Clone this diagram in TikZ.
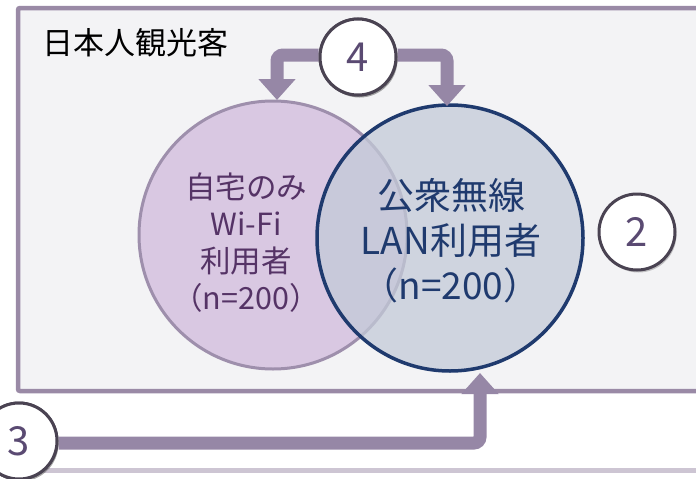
\documentclass[tikz,border=0pt]{standalone}
\usepackage{fontspec}
\newfontfamily\jp{Noto Sans CJK JP}
\usetikzlibrary{arrows.meta,shadows}
\definecolor{frame}{HTML}{9A8AA6}
\definecolor{arrowc}{HTML}{9687A6}
\definecolor{bgc}{HTML}{F3F3F5}
\definecolor{lilac}{HTML}{D9C8E2}
\definecolor{lilacedge}{HTML}{9E8FAC}
\definecolor{navy}{HTML}{1F3A6E}
\definecolor{navyfill}{HTML}{C3CAD8}
\definecolor{purpletext}{HTML}{553366}
\definecolor{badgeedge}{HTML}{4A4352}
\definecolor{badgetext}{HTML}{5A4A72}
\definecolor{lowline}{HTML}{CDC5D3}
\tikzset{
  badge/.style={circle, draw=badgeedge, line width=3pt, fill=white,
    inner sep=0pt, minimum size=76pt, text=badgetext,
    font=\jp\fontsize{40}{40}\selectfont,
    drop shadow={shadow xshift=1.5pt, shadow yshift=-2.5pt, opacity=0.35, fill=black!60}},
  flow/.style={draw=arrowc, line width=13pt, rounded corners=6pt,
    -{Triangle[width=36pt,length=21pt]}},
  lefttext/.style={align=center, text=purpletext, font=\jp\fontsize{30.5}{37}\selectfont},
  righttext/.style={align=center, text=navy, font=\jp\fontsize{37}{45}\selectfont}
}
\begin{document}
\begin{tikzpicture}[x=1pt,y=-1pt]
\useasboundingbox (0,0) rectangle (696,479);
% lower line
\draw[lowline, line width=5pt] (40,470) -- (700,470);
% outer frame
\draw[frame, line width=4.5pt, fill=bgc, rounded corners=2pt] (18,8) rectangle (720,391);
\node[anchor=west, font=\jp\fontsize{31}{31}\selectfont, inner sep=0pt] (title) at (42,43) {日本人観光客};
% circles
\node[circle, draw=lilacedge, line width=3pt, fill=lilac, minimum size=268pt, inner sep=0pt] (wifi) at (273,235) {};
\node[circle, draw=navy, line width=3.5pt, fill=navyfill, fill opacity=0.75, minimum size=266pt, inner sep=0pt] (lan) at (450,238) {};
\node[lefttext] (wifitext) at (246,243) {自宅のみ\\Wi-Fi\\利用者\\（n=200）};
\node[righttext] (lantext) at (451,241) {公衆無線\\LAN利用者\\（n=200）};
% connector targets
\coordinate (t4l) at (277,100);
\coordinate (t4r) at (447,106);
\coordinate (t3) at (480,373);
% badges
\node[badge] (b4) at (358,57) {4};
\node[badge] (b2) at (637,232) {2};
\node[badge] (b3) at (19,441) {3};
% arrows
\draw[flow] (b4.west) ++(0,-2) -| (t4l);
\draw[flow] (b4.east) ++(0,-2) -| (t4r);
\draw[flow] (b3.east) ++(0,2) -| (t3);
% badges on top of arrows
\node[badge] at (b4) {4};
\node[badge] at (b3) {3};
\end{tikzpicture}
\end{document}
